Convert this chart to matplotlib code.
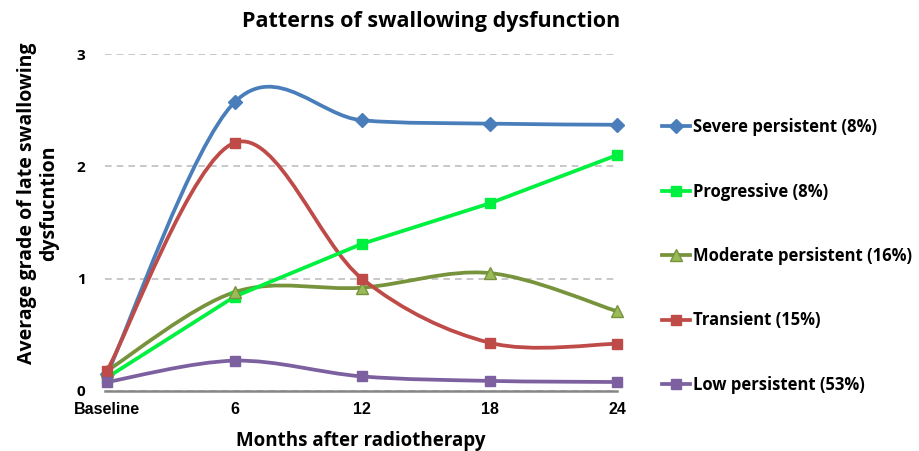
import numpy as np
import matplotlib
matplotlib.use("Agg")
import matplotlib.pyplot as plt
from matplotlib.path import Path
from matplotlib.patches import PathPatch
from matplotlib.lines import Line2D

plt.rcParams['font.family'] = ['Open Sans', 'DejaVu Sans']
plt.rcParams['font.weight'] = 'bold'
plt.rcParams['axes.labelweight'] = 'bold'

# data
months = ['Baseline', '6', '12', '18', '24']
severe = [0.15, 2.57, 2.41, 2.38, 2.37]
progressive = [0.12, 0.84, 1.31, 1.67, 2.10]
moderate = [0.18, 0.88, 0.92, 1.05, 0.71]
transient = [0.18, 2.21, 1.00, 0.43, 0.42]
low = [0.08, 0.27, 0.13, 0.09, 0.08]

labels = ['Severe persistent (8%)', 'Progressive (8%)', 'Moderate persistent (16%)',
          'Transient (15%)', 'Low persistent (53%)']


def smooth_path(x, y):
    # excel style smoothed line: cubic bezier through each point
    pts = np.column_stack([x, y]).astype(float)
    n = len(pts)
    verts = [pts[0]]
    codes = [Path.MOVETO]
    for i in range(n - 1):
        p0 = pts[i - 1] if i > 0 else pts[i]
        p1 = pts[i]
        p2 = pts[i + 1]
        p3 = pts[i + 2] if i + 2 < n else pts[i + 1]
        verts += [p1 + (p2 - p0) / 6, p2 - (p3 - p1) / 6, p2]
        codes += [Path.CURVE4] * 3
    return Path(verts, codes)


fig = plt.figure(figsize=(9.19, 4.51), dpi=100)
ax = fig.add_axes([105 / 919, 60 / 451, 512 / 919, 337 / 451])

x = np.arange(len(months))
series = [
    (severe, '#4A7EBB', 'D', '#4A7EBB', 7, True),
    (progressive, '#00F040', 's', '#00F040', 7, False),
    (moderate, '#77933C', '^', '#9BBB59', 8, True),
    (transient, '#BE4B48', 's', '#BE4B48', 7.5, True),
    (low, '#7D60A0', 's', '#7D60A0', 7.5, True),
]

handles = []
for (vals, col, mk, fc, ms, smooth), lab in zip(series, labels):
    if smooth:
        ax.add_patch(PathPatch(smooth_path(x, vals), fill=False, edgecolor=col,
                               lw=2.7, clip_on=False, capstyle='round'))
    else:
        ax.plot(x, vals, color=col, lw=2.7, clip_on=False)
    ax.plot(x, vals, linestyle='none', marker=mk, markersize=ms, markerfacecolor=fc,
            markeredgecolor=col, markeredgewidth=1, clip_on=False)
    handles.append(Line2D([], [], color=col, lw=2.7, marker=mk, markersize=ms,
                          markerfacecolor=fc, markeredgecolor=col))

ax.set_xlim(-0.016, 4.0)
ax.set_ylim(0, 3)
ax.set_xticks(x)
ax.set_xticklabels(months, fontsize=11.5, family='Liberation Sans')
ax.set_yticks([0, 1, 2, 3])
ax.set_yticklabels(['0', '1', '2', '3'], fontsize=11)
ax.tick_params(axis='x', length=0, pad=8)
ax.tick_params(axis='y', length=0, pad=14)
ax.yaxis.grid(True, linestyle=(0, (4, 3)), color='#BFBFBF', lw=1.2)
ax.set_axisbelow(True)
for s in ['top', 'right', 'left']:
    ax.spines[s].set_visible(False)
ax.spines['bottom'].set_color('#868686')
ax.spines['bottom'].set_linewidth(1.8)

ax.set_xlabel('Months after radiotherapy', fontsize=13.5, labelpad=10)
fig.text(38 / 919, 1 - 203 / 451, 'Average grade of late swallowing\ndysfucntion',
         rotation=90, ha='center', va='center', fontsize=14, linespacing=1.15)
fig.text(431 / 919, 1 - 22 / 451, 'Patterns of swallowing dysfunction',
         ha='center', va='center', fontsize=15.5)

fig.legend(handles, labels, loc='upper left', bbox_to_anchor=(654 / 919, 1 - 110 / 451),
           frameon=False, fontsize=12, labelspacing=2.78, handlelength=1.65,
           handletextpad=0.2, borderpad=0)

fig.savefig('out.png', dpi=100)
